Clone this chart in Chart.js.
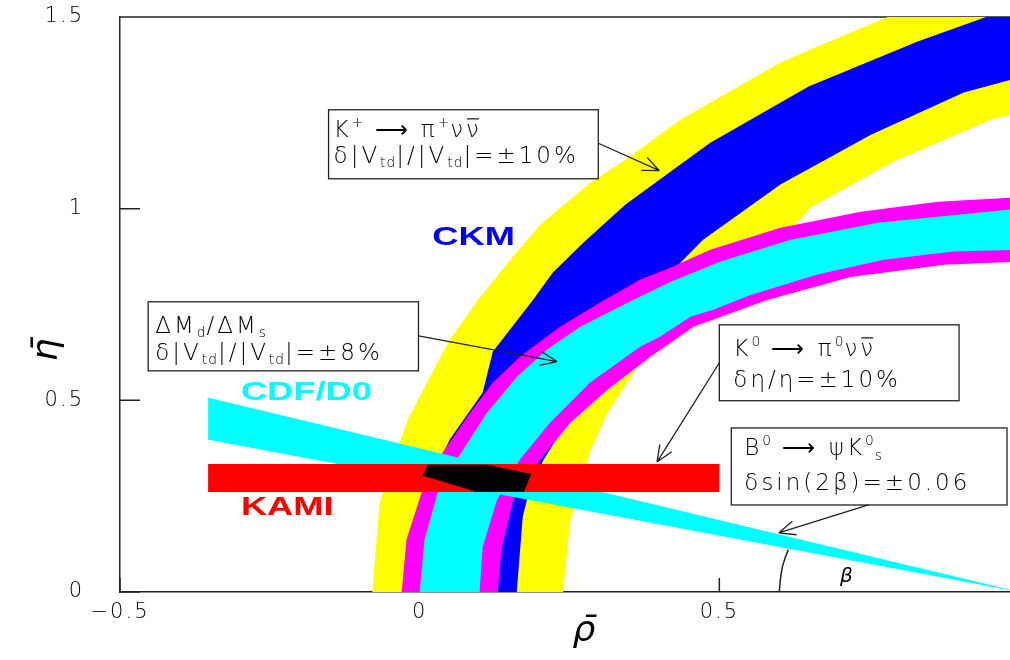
<!DOCTYPE html>
<html>
<head>
<meta charset="utf-8">
<script src="https://cdn.jsdelivr.net/npm/chart.js@4.4.0/dist/chart.umd.min.js"></script>
<style>
  html, body { margin: 0; padding: 0; background: #fff; }
</style>
</head>
<body>
<canvas id="c" width="1010" height="660"></canvas>
<script>
// ticks
var xTicks = [-0.5, 0, 0.5];
var yTicks = [0, 0.5, 1, 1.5];

// K+ -> pi+ nu nubar, wide band (yellow) : outer edge bottom->top, inner edge top->bottom
var yellowOuter = [[-0.079, 0], [-0.067, 0.232], [-0.033, 0.392], [-0.020, 0.449], [0.012, 0.546], [0.050, 0.658],
    [0.097, 0.762], [0.154, 0.872], [0.201, 0.958], [0.281, 1.063], [0.351, 1.136], [0.435, 1.232],
    [0.602, 1.381], [0.664, 1.423], [0.781, 1.5], [1.0, 1.5]];
var yellowInner = [[1.0, 1.25], [0.953, 1.232], [0.791, 1.123], [0.652, 1.003], [0.630, 0.963], [0.51, 0.80],
    [0.401, 0.658], [0.380, 0.624], [0.346, 0.546], [0.313, 0.467], [0.284, 0.366], [0.251, 0.183], [0.239, 0]];

// CKM band (blue)
var blueOuter = [[0.0, 0], [0.012, 0.2], [0.03, 0.33], [0.050, 0.397], [0.105, 0.520], [0.122, 0.627],
    [0.189, 0.762], [0.222, 0.833], [0.273, 0.911], [0.343, 1.010], [0.435, 1.115], [0.485, 1.172],
    [0.649, 1.319], [0.831, 1.436], [0.945, 1.5], [1.0, 1.5]];
var blueInner = [[1.0, 1.342], [0.908, 1.303], [0.753, 1.193], [0.602, 1.063], [0.473, 0.919], [0.435, 0.859],
    [0.39, 0.78], [0.35, 0.69], [0.31, 0.60], [0.27, 0.51], [0.24, 0.43], [0.205, 0.34], [0.179, 0.240],
    [0.172, 0.196], [0.162, 0]];

// dMd/dMs band (magenta) and inner part (cyan)
var magentaOuter = [[-0.030, 0], [-0.022, 0.136], [0.003, 0.258], [0.038, 0.363], [0.084, 0.467], [0.122, 0.546],
    [0.167, 0.614], [0.234, 0.692], [0.301, 0.755], [0.368, 0.815], [0.418, 0.846], [0.485, 0.893],
    [0.602, 0.950], [0.736, 0.992], [0.865, 1.018], [1.0, 1.03]];
var magentaInner = [[1.0, 0.862], [0.875, 0.854], [0.719, 0.822], [0.580, 0.762], [0.457, 0.692], [0.385, 0.614],
    [0.313, 0.527], [0.251, 0.441], [0.201, 0.345], [0.156, 0.240], [0.137, 0.115], [0.130, 0]];
var cyanOuter = [[0.0, 0], [0.008, 0.136], [0.030, 0.258], [0.067, 0.358], [0.112, 0.467], [0.162, 0.561],
    [0.212, 0.632], [0.268, 0.692], [0.356, 0.762], [0.418, 0.809], [0.502, 0.862], [0.619, 0.919],
    [0.764, 0.963], [1.0, 1.0]];
var cyanInner = [[1.0, 0.893], [0.891, 0.888], [0.774, 0.867], [0.664, 0.828], [0.552, 0.775], [0.490, 0.736],
    [0.452, 0.718], [0.401, 0.666], [0.368, 0.640], [0.284, 0.546], [0.217, 0.441], [0.167, 0.345],
    [0.129, 0.240], [0.105, 0.117], [0.100, 0]];

// sin(2beta) wedge, KAMI eta band, overlap region, beta arc
var cdfWedge = [[-0.353, 0.507], [1.0, 0], [-0.353, 0.397]];
var kamiBand = [[-0.353, 0.261], [0.5, 0.261], [0.5, 0.334], [-0.353, 0.334]];
var overlap = [[0.013, 0.332], [0.112, 0.332], [0.186, 0.308], [0.174, 0.261], [0.095, 0.261], [0.005, 0.303]];
var betaArc = [[0.600, 0], [0.602, 0.035], [0.605, 0.065], [0.610, 0.090], [0.615, 0.110]];

function pts(list) {
    return list.map(function (p) { return {x: p[0], y: p[1]}; });
}

function band(list, color) {
    return {
        data: pts(list), fill: 'shape', backgroundColor: color, borderColor: color,
        borderWidth: 0, pointRadius: 0, tension: 0
    };
}

// boxes with text, in data coords
var boxes = [
    {x0: -0.152, y0: 1.258, x1: 0.298, y1: 1.078, dx: 5, base: [27, 53],
        lines: [[['K'], ['+', 'sup'], [' ⟶ π'], ['+', 'sup'], ['ν'], ['ν', 'bar']],
            [['δ|V'], ['td', 'sub'], ['|/|V'], ['td', 'sub'], ['|=±10%']]],
        arrow: [[0.299, 1.170], [0.400, 1.099]]},
    {x0: -0.453, y0: 0.757, x1: -0.002, y1: 0.577, dx: 7, base: [31, 58],
        lines: [[['ΔM'], ['d', 'sub'], ['/ΔM'], ['s', 'sub']],
            [['δ|V'], ['td', 'sub'], ['|/|V'], ['td', 'sub'], ['|=±8%']]],
        arrow: [[-0.002, 0.668], [0.229, 0.601]]},
    {x0: 0.5, y0: 0.697, x1: 0.9, y1: 0.499, dx: 14, base: [31, 62],
        lines: [[['K'], ['0', 'sup'], [' ⟶ π'], ['0', 'sup'], ['ν'], ['ν', 'bar']],
            [['δη/η=±10%']]],
        arrow: [[0.5, 0.598], [0.396, 0.339]]},
    {x0: 0.520, y0: 0.428, x1: 0.980, y1: 0.227, dx: 13, base: [27, 62],
        lines: [[['B'], ['0', 'sup'], [' ⟶ ψK'], ['0', 'sup'], ['s', 'sub']],
            [['δsin(2β)=±0.06']]],
        arrow: [[0.749, 0.227], [0.599, 0.154]]}
];

var bigLabels = [
    {text: 'CKM', color: '#0000ff', at: [0.090, 0.924]},
    {text: 'CDF/D0', color: '#00ffff', at: [-0.189, 0.520]},
    {text: 'KAMI', color: '#ff0000', at: [-0.221, 0.219]}
];

function richLine(ctx, segs, x, y, size) {
    segs.forEach(function (s) {
        var mode = s[1] || '';
        var small = mode === 'sup' || mode === 'sub';
        var fs = small ? size * 0.6 : size;
        var dy = mode === 'sup' ? -size * 0.42 : mode === 'sub' ? size * 0.2 : 0;
        ctx.font = '200 ' + fs + 'px "DejaVu Sans"';
        ctx.letterSpacing = small ? '1px' : '3px';
        ctx.fillText(s[0], x, y + dy);
        var w = ctx.measureText(s[0]).width;
        if (mode === 'bar') {
            ctx.beginPath();
            ctx.moveTo(x + 1, y - size * 0.78);
            ctx.lineTo(x + w - 3, y - size * 0.78);
            ctx.stroke();
        }
        x += w;
    });
}

function arrow(ctx, a, b) {
    var ang = Math.atan2(b[1] - a[1], b[0] - a[0]);
    ctx.beginPath();
    ctx.moveTo(a[0], a[1]);
    ctx.lineTo(b[0], b[1]);
    [-1, 1].forEach(function (s) {
        ctx.moveTo(b[0], b[1]);
        ctx.lineTo(b[0] - 18 * Math.cos(ang + s * 0.4), b[1] - 18 * Math.sin(ang + s * 0.4));
    });
    ctx.stroke();
}

var decor = {
    id: 'decor',
    beforeDraw: function (chart) {
        chart.ctx.letterSpacing = '2px';
    },
    beforeDatasetsDraw: function (chart) {
        var ctx = chart.ctx, xs = chart.scales.x, ys = chart.scales.y, a = chart.chartArea;
        ctx.save();
        ctx.strokeStyle = '#222';
        ctx.lineWidth = 1.5;
        ctx.beginPath();
        yTicks.forEach(function (v) {
            var y = ys.getPixelForValue(v);
            ctx.moveTo(a.left, y);
            ctx.lineTo(a.left + 20, y);
        });
        xTicks.forEach(function (v) {
            var x = xs.getPixelForValue(v);
            ctx.moveTo(x, a.bottom);
            ctx.lineTo(x, a.bottom - 14);
        });
        ctx.moveTo(a.left, a.top);
        ctx.lineTo(a.right, a.top);
        ctx.stroke();
        ctx.restore();
    },
    afterDraw: function (chart) {
        var ctx = chart.ctx, xs = chart.scales.x, ys = chart.scales.y, a = chart.chartArea;
        function P(p) { return [xs.getPixelForValue(p[0]), ys.getPixelForValue(p[1])]; }
        ctx.save();

        // big coloured labels
        ctx.letterSpacing = '0px';
        ctx.textAlign = 'center';
        ctx.textBaseline = 'middle';
        ctx.font = 'bold 25px "Liberation Sans"';
        bigLabels.forEach(function (l) {
            var p = P(l.at);
            ctx.save();
            ctx.fillStyle = l.color;
            ctx.translate(p[0], p[1]);
            ctx.scale(1.45, 1);
            ctx.fillText(l.text, 0, 0);
            ctx.restore();
        });

        // boxes, texts and arrows
        ctx.strokeStyle = '#222';
        ctx.fillStyle = '#000';
        ctx.lineWidth = 1.3;
        ctx.textAlign = 'left';
        ctx.textBaseline = 'alphabetic';
        boxes.forEach(function (b) {
            var p0 = P([b.x0, b.y0]), p1 = P([b.x1, b.y1]);
            ctx.strokeRect(p0[0], p0[1], p1[0] - p0[0], p1[1] - p0[1]);
            b.lines.forEach(function (segs, i) {
                richLine(ctx, segs, p0[0] + b.dx, p0[1] + b.base[i], 23);
            });
            arrow(ctx, P(b.arrow[0]), P(b.arrow[1]));
        });

        // beta
        ctx.letterSpacing = '0px';
        ctx.textAlign = 'center';
        ctx.textBaseline = 'middle';
        ctx.font = 'oblique 200 20px "DejaVu Sans"';
        var pb = P([0.712, 0.039]);
        ctx.fillText('β', pb[0], pb[1]);

        // axis titles
        ctx.textBaseline = 'alphabetic';
        ctx.font = 'oblique 200 36px "DejaVu Sans"';
        ctx.fillText('ρ\u0304', xs.getPixelForValue(0.274), a.bottom + 49);
        ctx.save();
        ctx.translate(a.left - 63, ys.getPixelForValue(0.632));
        ctx.rotate(-Math.PI / 2);
        ctx.fillText('η\u0304', 0, 0);
        ctx.restore();

        ctx.restore();
    }
};

var tickFont = {family: 'DejaVu Sans', size: 21, weight: 200};

// listed bottom layer first; Chart.js paints dataset 0 last, so reverse
var layers = [
    band(yellowOuter.concat(yellowInner), '#ffff00'),
    band(blueOuter.concat(blueInner), '#0000ff'),
    band(magentaOuter.concat(magentaInner), '#ff00ff'),
    band(cyanOuter.concat(cyanInner), '#00ffff'),
    band(cdfWedge, '#00ffff'),
    band(kamiBand, '#ff0000'),
    band(overlap, '#000000'),
    {data: pts(betaArc), fill: false, borderColor: '#222', borderWidth: 1.5, pointRadius: 0, tension: 0}
].reverse();

new Chart(document.getElementById('c').getContext('2d'), {
    type: 'line',
    data: {datasets: layers},
    options: {
        responsive: false,
        animation: false,
        devicePixelRatio: 1,
        layout: {padding: {top: 17, right: 0, left: 0, bottom: 0}},
        plugins: {legend: {display: false}, tooltip: {enabled: false}},
        scales: {
            x: {
                type: 'linear', min: -0.5, max: 0.985,
                afterBuildTicks: function (s) { s.ticks = xTicks.map(function (v) { return {value: v}; }); },
                afterFit: function (s) { s.height = 68; },
                grid: {display: false},
                border: {display: true, color: '#222', width: 1.5},
                ticks: {
                    padding: 0, color: '#000', font: tickFont, maxRotation: 0,
                    callback: function (v) { return v < 0 ? '−' + Math.abs(v) : String(v); }
                }
            },
            y: {
                type: 'linear', min: 0, max: 1.5,
                afterBuildTicks: function (s) { s.ticks = yTicks.map(function (v) { return {value: v}; }); },
                afterFit: function (s) { s.width = 120; s.paddingTop = 0; s.paddingBottom = 0; },
                grid: {display: false},
                border: {display: true, color: '#222', width: 1.5},
                ticks: {padding: 28, color: '#000', font: tickFont, callback: function (v) { return String(v); }}
            }
        }
    },
    plugins: [decor]
});
</script>
</body>
</html>
